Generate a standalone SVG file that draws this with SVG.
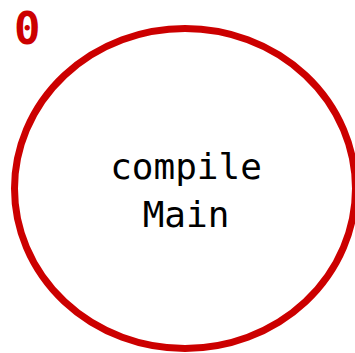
<svg xmlns="http://www.w3.org/2000/svg" width="355" height="353" viewBox="0 0 355 353">
<style>
.node{fill:#ffffff;stroke:#cc0000;stroke-width:7}
.lbl{font-family:"DejaVu Sans Mono",monospace;font-size:36px;fill:#000000;text-anchor:middle}
.idx{font-family:"DejaVu Sans Mono",monospace;font-size:44px;font-weight:bold;fill:#cc0000}
</style>
<rect width="355" height="353" fill="#ffffff"/>
<g id="connectors"></g>
<g id="node0">
<ellipse class="node" cx="185" cy="188.5" rx="170.5" ry="160"/>
<text class="lbl" x="186" y="179">compile</text>
<text class="lbl" x="186" y="227">Main</text>
<text class="idx" x="14" y="44">0</text>
</g>
</svg>
